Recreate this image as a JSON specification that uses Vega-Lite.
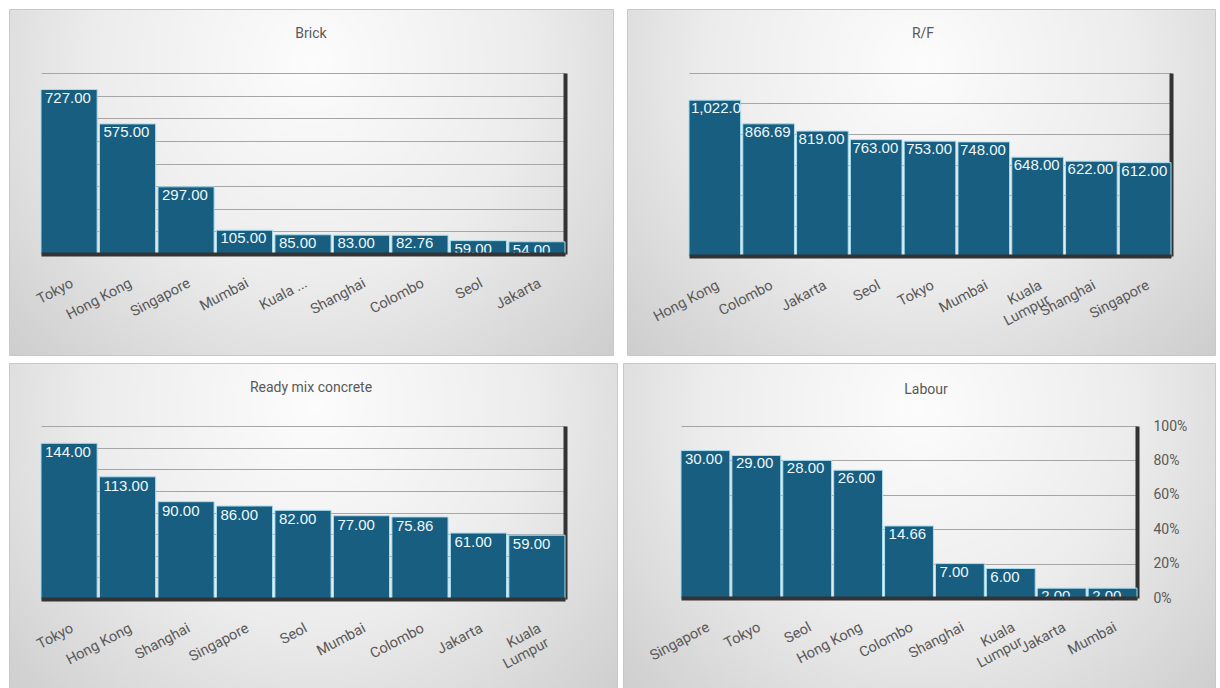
{
  "$schema": "https://vega.github.io/schema/vega-lite/v6.json",
  "background": "white",
  "padding": {"left": 8, "top": 8, "right": 6, "bottom": 0},
  "datasets": {
    "brick": [
      {"city": "Tokyo", "value": 727},
      {"city": "Hong Kong", "value": 575},
      {"city": "Singapore", "value": 297},
      {"city": "Mumbai", "value": 105},
      {"city": "Kuala Lumpur", "value": 85},
      {"city": "Shanghai", "value": 83},
      {"city": "Colombo", "value": 82.76},
      {"city": "Seol", "value": 59},
      {"city": "Jakarta", "value": 54}
    ],
    "rf": [
      {"city": "Hong Kong", "value": 1022},
      {"city": "Colombo", "value": 866.69},
      {"city": "Jakarta", "value": 819},
      {"city": "Seol", "value": 763},
      {"city": "Tokyo", "value": 753},
      {"city": "Mumbai", "value": 748},
      {"city": "Kuala Lumpur", "value": 648},
      {"city": "Shanghai", "value": 622},
      {"city": "Singapore", "value": 612}
    ],
    "rmc": [
      {"city": "Tokyo", "value": 144},
      {"city": "Hong Kong", "value": 113},
      {"city": "Shanghai", "value": 90},
      {"city": "Singapore", "value": 86},
      {"city": "Seol", "value": 82},
      {"city": "Mumbai", "value": 77},
      {"city": "Colombo", "value": 75.86},
      {"city": "Jakarta", "value": 61},
      {"city": "Kuala Lumpur", "value": 59}
    ],
    "labour": [
      {"city": "Singapore", "value": 30},
      {"city": "Tokyo", "value": 29},
      {"city": "Seol", "value": 28},
      {"city": "Hong Kong", "value": 26},
      {"city": "Colombo", "value": 14.66},
      {"city": "Shanghai", "value": 7},
      {"city": "Kuala Lumpur", "value": 6},
      {"city": "Jakarta", "value": 2},
      {"city": "Mumbai", "value": 2}
    ],
    "empty": [{}]
  },
  "vconcat": [
    {
      "vconcat": [
        {
          "hconcat": [
            {"width": 604, "height": 346, "data": {"name": "empty"}, "mark": {"type": "text"}, "encoding": {},
              "view": {"stroke": "#c8c8c8", "fill": {"gradient": "radial", "x1": 0.5, "y1": 0.3, "r1": 0, "x2": 0.5, "y2": 0.3, "r2": 0.8, "stops": [{"offset": 0, "color": "#fcfcfc"}, {"offset": 0.45, "color": "#ececec"}, {"offset": 1, "color": "#c4c4c4"}]}}},
            {"width": 588, "height": 346, "data": {"name": "empty"}, "mark": {"type": "text"}, "encoding": {},
              "view": {"stroke": "#c8c8c8", "fill": {"gradient": "radial", "x1": 0.5, "y1": 0.3, "r1": 0, "x2": 0.5, "y2": 0.3, "r2": 0.8, "stops": [{"offset": 0, "color": "#fcfcfc"}, {"offset": 0.45, "color": "#ececec"}, {"offset": 1, "color": "#c4c4c4"}]}}}
          ],
          "spacing": 14,
          "bounds": "flush"
        },
        {
          "hconcat": [
            {"width": 1, "height": 1, "data": {"name": "empty"}, "mark": {"type": "text"}, "encoding": {}},
            {
              "hconcat": [
                {
                  "data": {"name": "brick"},
                  "width": 524, "height": 181,
                  "title": {"text": "Brick", "dx": 8, "offset": 32},
                  "encoding": {
                    "x": {"field": "city", "type": "nominal", "sort": null, "scale": {"paddingInner": 0.04, "paddingOuter": 0},
                      "axis": {"title": null, "labelAngle": -28, "labelAlign": "right", "labelBaseline": "top", "ticks": false, "labelPadding": 22, "domainColor": "#333333", "domainWidth": 4, "zindex": 1,
                        "labelExpr": "datum.value == 'Kuala Lumpur' ? 'Kuala ...' : datum.value"}},
                    "y": {"field": "value", "type": "quantitative", "scale": {"domain": [0, 800]},
                      "axis": {"orient": "right", "title": null, "labels": false, "ticks": false, "values": [0, 100, 200, 300, 400, 500, 600, 700, 800], "grid": true, "gridColor": "#a6a6a6", "domainColor": "#333333", "domainWidth": 4}}
                  },
                  "layer": [
                    {"mark": {"type": "bar", "fill": "#175e80", "stroke": "#a9dcef", "strokeWidth": 1}},
                    {"mark": {"type": "text", "align": "left", "baseline": "top", "dx": 4, "dy": 1, "color": "#eef8fc", "fontSize": 15},
                      "encoding": {"x": {"field": "city", "type": "nominal", "sort": null, "bandPosition": 0}, "text": {"field": "value", "format": ",.2f"}}}
                  ]
                },
                {
                  "data": {"name": "rf"},
                  "width": 482, "height": 183,
                  "title": {"text": "R/F", "dx": -7, "offset": 32},
                  "encoding": {
                    "x": {"field": "city", "type": "nominal", "sort": null, "scale": {"paddingInner": 0.04, "paddingOuter": 0},
                      "axis": {"title": null, "labelAngle": -28, "labelAlign": "right", "labelBaseline": "top", "ticks": false, "labelPadding": 22, "domainColor": "#333333", "domainWidth": 4, "zindex": 1,
                        "labelExpr": "datum.value == 'Kuala Lumpur' ? ['Kuala', 'Lumpur'] : datum.value"}},
                    "y": {"field": "value", "type": "quantitative", "scale": {"domain": [0, 1200]},
                      "axis": {"orient": "right", "title": null, "labels": false, "ticks": false, "values": [0, 200, 400, 600, 800, 1000, 1200], "grid": true, "gridColor": "#a6a6a6", "domainColor": "#333333", "domainWidth": 4}}
                  },
                  "layer": [
                    {"mark": {"type": "bar", "fill": "#175e80", "stroke": "#a9dcef", "strokeWidth": 1}},
                    {"mark": {"type": "text", "align": "left", "baseline": "top", "dx": 2, "dy": 1, "color": "#eef8fc", "fontSize": 15, "limit": 52, "ellipsis": "\u200b"},
                      "encoding": {"x": {"field": "city", "type": "nominal", "sort": null, "bandPosition": 0}, "text": {"field": "value", "format": ",.2f"}}}
                  ]
                }
              ],
              "spacing": 124,
              "bounds": "flush"
            }
          ],
          "spacing": 31,
          "bounds": "flush"
        }
      ],
      "spacing": 64,
      "bounds": "flush"
    },
    {
      "vconcat": [
        {
          "hconcat": [
            {"width": 608, "height": 326, "data": {"name": "empty"}, "mark": {"type": "text"}, "encoding": {},
              "view": {"stroke": "#c8c8c8", "fill": {"gradient": "radial", "x1": 0.5, "y1": 0.3, "r1": 0, "x2": 0.5, "y2": 0.3, "r2": 0.8, "stops": [{"offset": 0, "color": "#fcfcfc"}, {"offset": 0.45, "color": "#ececec"}, {"offset": 1, "color": "#c4c4c4"}]}}},
            {"width": 592, "height": 326, "data": {"name": "empty"}, "mark": {"type": "text"}, "encoding": {},
              "view": {"stroke": "#c8c8c8", "fill": {"gradient": "radial", "x1": 0.5, "y1": 0.3, "r1": 0, "x2": 0.5, "y2": 0.3, "r2": 0.8, "stops": [{"offset": 0, "color": "#fcfcfc"}, {"offset": 0.45, "color": "#ececec"}, {"offset": 1, "color": "#c4c4c4"}]}}}
          ],
          "spacing": 6,
          "bounds": "flush"
        },
        {
          "hconcat": [
            {"width": 1, "height": 1, "data": {"name": "empty"}, "mark": {"type": "text"}, "encoding": {}},
            {
              "hconcat": [
                {
                  "data": {"name": "rmc"},
                  "width": 524, "height": 173,
                  "title": {"text": "Ready mix concrete", "dx": 8, "offset": 31},
                  "encoding": {
                    "x": {"field": "city", "type": "nominal", "sort": null, "scale": {"paddingInner": 0.04, "paddingOuter": 0},
                      "axis": {"title": null, "labelAngle": -28, "labelAlign": "right", "labelBaseline": "top", "ticks": false, "labelPadding": 22, "domainColor": "#333333", "domainWidth": 4, "zindex": 1,
                        "labelExpr": "datum.value == 'Kuala Lumpur' ? ['Kuala', 'Lumpur'] : datum.value"}},
                    "y": {"field": "value", "type": "quantitative", "scale": {"domain": [0, 160]},
                      "axis": {"orient": "right", "title": null, "labels": false, "ticks": false, "values": [0, 20, 40, 60, 80, 100, 120, 140, 160], "grid": true, "gridColor": "#a6a6a6", "domainColor": "#333333", "domainWidth": 4}}
                  },
                  "layer": [
                    {"mark": {"type": "bar", "fill": "#175e80", "stroke": "#a9dcef", "strokeWidth": 1}},
                    {"mark": {"type": "text", "align": "left", "baseline": "top", "dx": 4, "dy": 2, "color": "#eef8fc", "fontSize": 15},
                      "encoding": {"x": {"field": "city", "type": "nominal", "sort": null, "bandPosition": 0}, "text": {"field": "value", "format": ",.2f"}}}
                  ]
                },
                {
                  "data": {"name": "labour"},
                  "width": 456, "height": 172,
                  "title": {"text": "Labour", "dx": 17, "offset": 22},
                  "encoding": {
                    "x": {"field": "city", "type": "nominal", "sort": null, "scale": {"paddingInner": 0.04, "paddingOuter": 0},
                      "axis": {"title": null, "labelAngle": -28, "labelAlign": "right", "labelBaseline": "top", "ticks": false, "labelPadding": 22, "domainColor": "#333333", "domainWidth": 4, "zindex": 1,
                        "labelExpr": "datum.value == 'Kuala Lumpur' ? ['Kuala', 'Lumpur'] : datum.value"}},
                    "y": {"field": "value", "type": "quantitative", "scale": {"domain": [0, 35]},
                      "axis": {"orient": "right", "title": null, "ticks": false, "values": [0, 7, 14, 21, 28, 35], "grid": true, "gridColor": "#a6a6a6", "domainColor": "#333333", "domainWidth": 4, "labelPadding": 16, "labelFontSize": 14,
                        "labelExpr": "format(datum.value / 35 * 100, 'd') + '%'"}}
                  },
                  "layer": [
                    {"mark": {"type": "bar", "fill": "#175e80", "stroke": "#a9dcef", "strokeWidth": 1}},
                    {"mark": {"type": "text", "align": "left", "baseline": "top", "dx": 4, "dy": 1, "color": "#eef8fc", "fontSize": 15},
                      "encoding": {"x": {"field": "city", "type": "nominal", "sort": null, "bandPosition": 0}, "text": {"field": "value", "format": ",.2f"}}}
                  ]
                }
              ],
              "spacing": 116,
              "bounds": "flush"
            }
          ],
          "spacing": 31,
          "bounds": "flush"
        }
      ],
      "spacing": 63,
      "bounds": "flush"
    }
  ],
  "spacing": 354,
  "bounds": "flush",
  "config": {
    "font": "Roboto, sans-serif",
    "view": {"stroke": null},
    "axis": {"labelFont": "Roboto, sans-serif", "labelColor": "#595959", "labelFontSize": 14.5},
    "text": {"font": "Liberation Sans, Arial, sans-serif"},
    "title": {"font": "Roboto, sans-serif", "fontSize": 14, "fontWeight": "normal", "color": "#595959"}
  }
}
